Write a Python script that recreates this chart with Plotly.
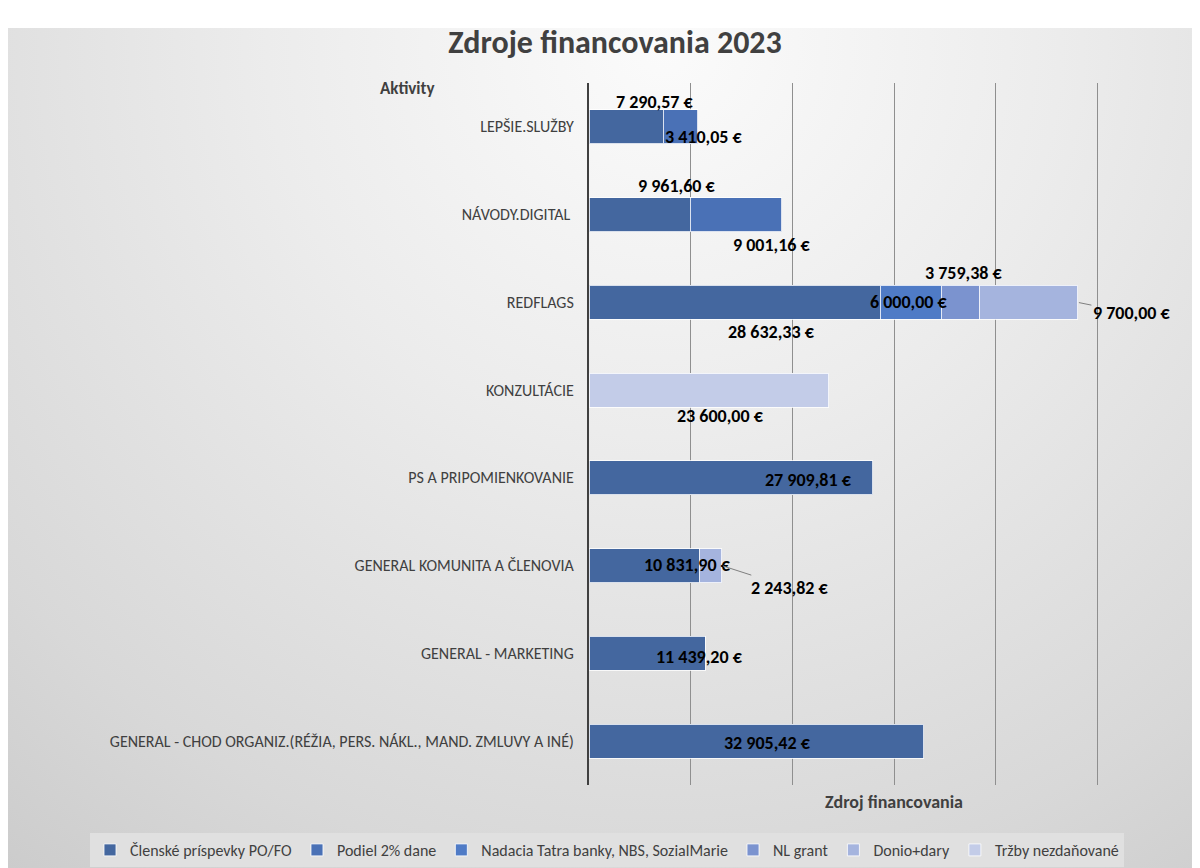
import base64
import plotly.graph_objects as go

# ---------------- data ----------------
categories = [
    "LEPŠIE.SLUŽBY",
    "NÁVODY.DIGITAL ",
    "REDFLAGS",
    "KONZULTÁCIE",
    "PS A PRIPOMIENKOVANIE",
    "GENERAL KOMUNITA A ČLENOVIA",
    "GENERAL - MARKETING",
    "GENERAL - CHOD ORGANIZ.(RÉŽIA, PERS. NÁKL., MAND. ZMLUVY A INÉ)",
]
series_names = [
    "Členské príspevky PO/FO",
    "Podiel 2% dane",
    "Nadacia Tatra banky, NBS, SozialMarie",
    "NL grant",
    "Donio+dary",
    "Tržby nezdaňované",
]
clenske = [7290.57, 9961.60, 28632.33, None, 27909.81, 10831.90, 11439.20, 32905.42]
podiel = [3410.05, 9001.16, None, None, None, None, None, None]
nadacia = [None, None, 6000.00, None, None, None, None, None]
nl_grant = [None, None, 3759.38, None, None, None, None, None]
donio = [None, None, 9700.00, None, None, 2243.82, None, None]
trzby = [None, None, None, 23600.00, None, None, None, None]
series_values = [clenske, podiel, nadacia, nl_grant, donio, trzby]

# ---------------- style ----------------
colors = ["#44679f", "#4a71b6", "#4f7bc6", "#7b93cf", "#a5b4de", "#c3cce8"]
FONT = "Carlito, Calibri, Lato, sans-serif"
# label offsets (pixels) per (series, category): (dx, dy, arrow)
label_style = {
    (0, 0): (29, 25, False), (1, 0): (24, -10, False),
    (0, 1): (37, 29, False), (1, 1): (36, -30, False),
    (0, 2): (37, -30, False), (2, 2): (-2, 0, False), (3, 2): (4, 29, False),
    (4, 2): (54, -11, True),
    (5, 3): (12, -26, False),
    (0, 4): (78, -2, False),
    (0, 5): (43, 1, False), (4, 5): (68, -22, True),
    (0, 6): (52, -4, False),
    (0, 7): (11, -2, False),
}


def fmt(v):
    s = f"{v:,.2f}"
    s = s.replace(",", " ").replace(".", ",")
    return s + " €"


fig = go.Figure()
for name, vals, col in zip(series_names, series_values, colors):
    fig.add_trace(go.Bar(
        y=categories, x=vals, name=name, orientation="h",
        marker=dict(color=col, line=dict(color="rgba(255,255,255,0.8)", width=1)),
        hoverinfo="x+y+name",
    ))

LABEL_FONT = dict(family=FONT, size=18, color="#000000", weight="bold")

annotations = []
base = [0.0] * len(categories)
for si, vals in enumerate(series_values):
    for ci, v in enumerate(vals):
        if v is None:
            continue
        dx, dy, arrow = label_style[(si, ci)]
        if arrow:
            annotations.append(dict(
                x=base[ci] + v, y=categories[ci], xref="x", yref="y",
                text=fmt(v), showarrow=True, arrowhead=0, arrowwidth=1,
                arrowcolor="#7f7f7f", ax=dx, ay=-dy, standoff=1,
                font=LABEL_FONT,
            ))
        else:
            annotations.append(dict(
                x=base[ci] + v / 2, y=categories[ci], xref="x", yref="y",
                text=fmt(v), showarrow=False, xshift=dx, yshift=dy,
                xanchor="center", yanchor="middle",
                font=LABEL_FONT,
            ))
        base[ci] += v

# page has an 8px body margin; figure is 1192x860 placed at (8, 8)
OFF = 8
W, H = 1192, 860
PLOT_L, PLOT_R, PLOT_T, PLOT_B = 581, 1191, 75, 777  # figure pixels


def px(xp):
    return (xp - OFF) / W


def py(yp):
    return 1 - (yp - OFF) / H


annotations.append(dict(
    x=px(407), y=py(89), xref="paper", yref="paper", text="<b>Aktivity</b>",
    xanchor="center", yanchor="middle",
    showarrow=False, font=dict(family=FONT, size=17, color="#404040")))
annotations.append(dict(
    x=px(894), y=py(802), xref="paper", yref="paper", text="<b>Zdroj financovania</b>",
    xanchor="center", yanchor="middle",
    showarrow=False, font=dict(family=FONT, size=18, color="#404040")))

# background gradient (SVG)
svg = '''<svg xmlns="http://www.w3.org/2000/svg" width="1192" height="840" viewBox="0 0 1192 840">
<defs><radialGradient id="g" cx="0.55" cy="0.02" r="0.95" gradientTransform="translate(0.55,0.02) scale(1,1.4) translate(-0.55,-0.02)">
<stop offset="0" stop-color="#fbfbfb"/><stop offset="0.35" stop-color="#ececec"/>
<stop offset="0.75" stop-color="#d8d8d8"/><stop offset="1" stop-color="#c8c8c8"/></radialGradient></defs>
<rect width="1192" height="840" fill="url(#g)"/></svg>'''
src = "data:image/svg+xml;base64," + base64.b64encode(svg.encode()).decode()

fig.update_layout(
    width=W, height=H,
    barmode="stack", bargap=0.613,
    paper_bgcolor="#ffffff", plot_bgcolor="rgba(0,0,0,0)",
    margin=dict(l=0, r=0, t=0, b=0, pad=0, autoexpand=False),
    title=dict(text="<b>Zdroje financovania 2023</b>", x=(615 - OFF) / W, xanchor="center",
               y=1 - (42 - OFF) / H, yanchor="middle",
               font=dict(family=FONT, size=32, color="#404040")),
    font=dict(family=FONT, color="#404040"),
    xaxis=dict(domain=[PLOT_L / W, PLOT_R / W],
               range=[0, 60000], dtick=10000, showgrid=True, gridcolor="#8f8f8f",
               gridwidth=1, showticklabels=False, zeroline=False, showline=False,
               fixedrange=True),
    yaxis=dict(domain=[1 - PLOT_B / H, 1 - PLOT_T / H],
               categoryorder="array", categoryarray=categories, autorange="reversed",
               showline=True, linecolor="#404040", linewidth=2, ticks="",
               ticklabelstandoff=10, tickfont=dict(family=FONT, size=16, color="#404040"),
               showgrid=False, zeroline=False),
    legend=dict(orientation="h", xref="paper", yref="paper",
                x=px(607), y=py(850), xanchor="center", yanchor="middle",
                bgcolor="#e0e0e0", font=dict(family=FONT, size=16, color="#404040"),
                itemwidth=30, traceorder="normal"),
    annotations=annotations,
    images=[dict(source=src, xref="paper", yref="paper", x=0, y=py(28),
                 sizex=1, sizey=840 / H, xanchor="left",
                 yanchor="top", sizing="stretch", layer="below")],
)

fig.write_html("out.html")
